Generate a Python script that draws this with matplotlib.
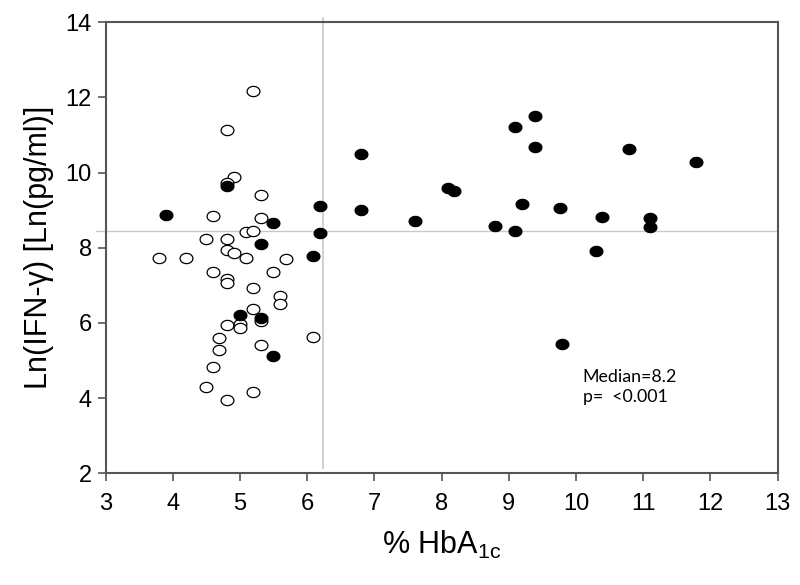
# hba1c_ifn.py
#
#    purpose: scatter of Ln(IFN-gamma) against % HbA1c with median cut lines
#

import matplotlib
matplotlib.use("Agg")
import matplotlib.pyplot as plt
import numpy as np
from matplotlib.path import Path

plt.rcParams['font.family'] = ['Liberation Sans', 'DejaVu Sans']
plt.rcParams['mathtext.default'] = 'regular'

# open circles (HbA1c below cut-off)
openX = [5.20, 4.80, 4.91, 4.80, 5.31, 4.60, 5.31, 5.09, 5.20, 4.50,
         4.80, 4.80, 4.91, 3.80, 4.19, 5.09, 5.69, 4.60, 5.49, 4.80,
         4.80, 5.20, 5.59, 5.59, 5.20, 5.31, 4.80, 5.00, 5.00, 4.69,
         4.69, 6.09, 5.31, 4.60, 4.50, 5.20, 4.80]
openY = [12.17, 11.13, 9.88, 9.72, 9.40, 8.85, 8.78, 8.42, 8.44, 8.24,
         8.22, 7.95, 7.85, 7.73, 7.73, 7.73, 7.71, 7.36, 7.36, 7.18,
         7.06, 6.93, 6.71, 6.50, 6.36, 6.06, 5.94, 5.96, 5.87, 5.60,
         5.27, 5.63, 5.42, 4.83, 4.30, 4.15, 3.94]

# filled circles
filledX = [4.80, 3.90, 5.49, 6.19, 6.19, 5.31, 6.09, 5.00, 5.31, 5.49,
           6.80, 6.80, 7.60, 8.09, 8.19, 9.09, 9.39, 9.39, 9.19, 8.80,
           9.09, 9.76, 10.79, 11.78, 10.39, 11.10, 11.10, 10.30, 9.79]
filledY = [9.64, 8.88, 8.66, 9.10, 8.39, 8.11, 7.79, 6.20, 6.12, 5.12,
           10.49, 9.00, 8.71, 9.59, 9.50, 11.20, 11.50, 10.67, 9.16, 8.57,
           8.45, 9.07, 10.63, 10.28, 8.81, 8.78, 8.55, 7.91, 5.45]

# cut lines
hbaCut = 6.23
ifnCut = 8.45

xTicks = np.arange(3, 14, 1)
yTicks = np.arange(2, 15, 2)

# slightly flattened ellipse marker
t = np.linspace(0, 2*np.pi, 40)
ell = Path(np.column_stack([np.cos(t), 0.8*np.sin(t)]), closed=True)

fig = plt.figure(figsize=(8, 5.85), dpi=100)
ax = fig.add_axes([0.132, 0.191, 0.840, 0.771])

# reference lines
ax.plot([2.86, 12.97], [ifnCut, ifnCut], color='#c8c8c8', lw=1, clip_on=False, zorder=1)
ax.plot([hbaCut, hbaCut], [2.13, 14.1], color='#c8c8c8', lw=1.2, clip_on=False, zorder=1)

ax.scatter(openX, openY, marker=ell, s=85, facecolors='white', edgecolors='black',
           linewidths=0.9, zorder=3)
ax.scatter(filledX, filledY, marker=ell, s=85, facecolors='black', edgecolors='black',
           linewidths=0.9, zorder=4)

ax.set_xlim(3, 13)
ax.set_ylim(2, 14)
ax.set_xticks(xTicks)
ax.set_yticks(yTicks)
ax.tick_params(direction='out', length=6, width=1.2, color='#555555',
               labelsize=17)
ax.tick_params(axis='x', pad=8)
ax.tick_params(axis='y', pad=4)

for s in ax.spines.values():
    s.set_color('#555555')
    s.set_linewidth(1.5)

ax.set_xlabel('% HbA$_{1c}$', fontsize=22, labelpad=10)
ax.set_ylabel('Ln(IFN-γ) [Ln(pg/ml)]', fontsize=22, labelpad=8)

ax.text(10.10, 4.30, 'Median=8.2\np=  <0.001', fontsize=12.8, family=['Lato', 'DejaVu Sans'],
        va='center', ha='left', linespacing=1.35)

fig.savefig('out.png', dpi=100)
